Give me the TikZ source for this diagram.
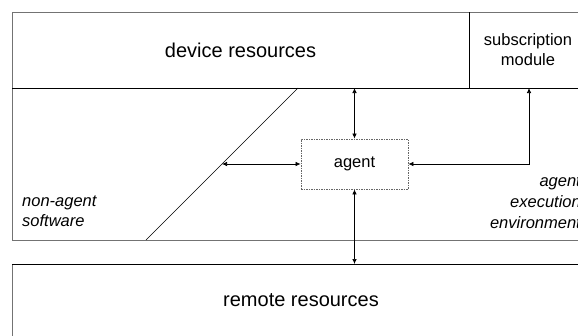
\documentclass[tikz,border=0pt]{standalone}
\usepackage{fontspec}
\setmainfont{Liberation Sans}
\usetikzlibrary{arrows.meta}
\begin{document}
\begin{tikzpicture}[x=1pt,y=-1pt,
  frame/.style={draw=black!55, line width=1pt},
  inner/.style={draw=black, line width=0.6pt},
  conn/.style={draw=black, line width=0.7pt, {Latex[length=5pt,width=4.5pt]}-{Latex[length=5pt,width=4.5pt]}},
  big/.style={font=\fontsize{20}{24}\selectfont, inner sep=0pt},
  small/.style={font=\fontsize{16.5}{20}\selectfont, inner sep=0pt, align=center},
  ]
\useasboundingbox (0,0) rectangle (578,335);
\clip (0,0) rectangle (578,335);
% frames
\draw[frame] (12,12) rectangle (590,240);
\draw[frame] (12,264) rectangle (590,345);
\draw[inner] (12,88) -- (590,88);
\draw[inner] (12,264) -- (590,264);
\draw[inner] (469,12) -- (469,88);
% texts
\node[big] (dev) at (240.5,50) {device resources};
\node[small] (sub) at (528,50) {subscription\\module};
\node[big] (rem) at (301,300) {remote resources};
\node[small, font=\fontsize{16.5}{20}\selectfont\itshape, align=left, anchor=west] (nas) at (22,211) {non-agent\\software};
\node[small, font=\fontsize{16.5}{21}\selectfont\itshape, align=right, anchor=east] (aee) at (581,202) {agent\\execution\\environment};
% agent
\node[draw=black!60, dash pattern=on 1.5pt off 1pt, line width=0.8pt, minimum width=107pt, minimum height=50pt, small] (agent) at (354.5,164) {agent};
% diagonal
\coordinate (dtop) at (298,88);
\coordinate (dbot) at (146,240);
\draw[inner] (dtop) -- (dbot);
\coordinate (dmid) at (222,164);
% connectors
\coordinate (devb) at (354.5,88);
\coordinate (subb) at (529,88);
\coordinate (remt) at (354.5,264);
\draw[conn] (devb) -- (agent.north);
\draw[conn] (dmid) -- (agent.west);
\draw[conn] (agent.east) -- (agent.east -| subb) -- (subb);
\draw[conn] (agent.south) -- (remt);
\end{tikzpicture}
\end{document}
